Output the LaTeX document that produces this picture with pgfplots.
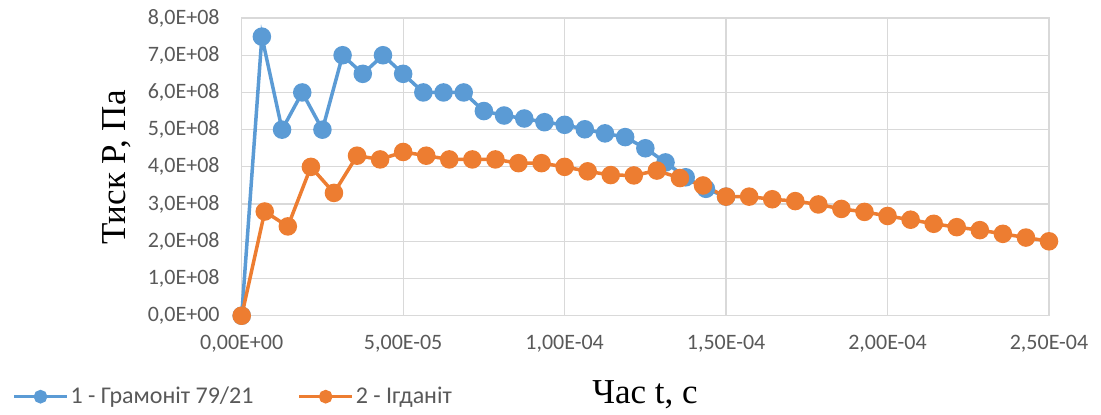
\documentclass[border=0pt]{standalone}
\usepackage{pgfplots}
\pgfplotsset{compat=1.18}
\usepackage{fontspec}
\setmainfont{Carlito}
\newfontfamily\seriffont{Liberation Serif}
\definecolor{xblue}{HTML}{5B9BD5}
\definecolor{xorange}{HTML}{ED7D31}
\definecolor{xgrid}{HTML}{D9D9D9}
\definecolor{xtext}{HTML}{595959}
\begin{document}
\begin{tikzpicture}
\begin{axis}[
  at={(0,0)}, anchor=south west,
  scale only axis,
  width=403.65pt, height=148.85pt,
  xmin=0, xmax=2.5e-4, ymin=0, ymax=8e8,
  scaled ticks=false,
  clip=false,
  xtick={0,5e-5,1e-4,1.5e-4,2e-4,2.5e-4},
  xticklabels={{0,00E+00},{5,00E-05},{1,00E-04},{1,50E-04},{2,00E-04},{2,50E-04}},
  ytick={0,1e8,2e8,3e8,4e8,5e8,6e8,7e8,8e8},
  yticklabels={{0,0E+00},{1,0E+08},{2,0E+08},{3,0E+08},{4,0E+08},{5,0E+08},{6,0E+08},{7,0E+08},{8,0E+08}},
  major tick length=0pt,
  grid=major,
  major grid style={draw=xgrid, line width=0.6pt},
  axis line style={draw=xgrid, line width=0.6pt},
  tick label style={font=\fontsize{11}{13}\selectfont, text=xtext},
  xticklabel style={yshift=-6pt},
  yticklabel style={xshift=-7.5pt},
  xlabel={\seriffont Час t, с},
  ylabel={\seriffont Тиск P, Па},
  xlabel style={at={(axis description cs:0.4996,-0.2933)}, anchor=base, font=\fontsize{17.5}{20}\selectfont, text=black},
  ylabel style={at={(axis description cs:-0.155,0.498)}, anchor=center, rotate=0, font=\fontsize{17.5}{20}\selectfont, text=black},
  legend columns=2,
  legend style={at={(axis description cs:-0.2845,-0.272)}, anchor=west, draw=none, fill=none,
    font=\fontsize{12}{14}\selectfont, text=xtext, inner sep=0pt,
    nodes={inner xsep=1pt},
    /tikz/every even column/.append style={column sep=21pt}},
  legend cell align=left,
  legend image code/.code={%
    \draw[line width=1.6pt, mark size=2.6pt, mark repeat=2, mark phase=2]
      plot coordinates {(0pt,0pt) (13.25pt,0pt) (26.5pt,0pt)};},
]
\addplot[color=xblue, line width=1.75pt, mark=*, mark size=3.75pt, mark options={fill=xblue, draw=xblue}] coordinates {
(0,0) (6.25e-6,7.5e8) (1.25e-5,5.0e8) (1.875e-5,6.0e8) (2.5e-5,5.0e8)
(3.125e-5,7.0e8) (3.75e-5,6.5e8) (4.375e-5,7.0e8) (5e-5,6.5e8) (5.625e-5,6.0e8)
(6.25e-5,6.0e8) (6.875e-5,6.0e8) (7.5e-5,5.5e8) (8.125e-5,5.38e8) (8.75e-5,5.3e8)
(9.375e-5,5.2e8) (1e-4,5.13e8) (1.0625e-4,5.01e8) (1.125e-4,4.9e8) (1.1875e-4,4.8e8)
(1.25e-4,4.5e8) (1.3125e-4,4.12e8) (1.375e-4,3.72e8) (1.4375e-4,3.41e8) (1.5e-4,3.2e8)
};
\addlegendentry{1 - Грамоніт 79/21}
\addplot[color=xorange, line width=1.75pt, mark=*, mark size=3.75pt, mark options={fill=xorange, draw=xorange}] coordinates {
(0,0) (7.143e-6,2.8e8) (1.4286e-5,2.4e8) (2.1429e-5,4.0e8) (2.8571e-5,3.3e8)
(3.5714e-5,4.3e8) (4.2857e-5,4.2e8) (5e-5,4.4e8) (5.7143e-5,4.3e8) (6.4286e-5,4.2e8)
(7.1429e-5,4.2e8) (7.8571e-5,4.2e8) (8.5714e-5,4.1e8) (9.2857e-5,4.1e8) (1e-4,4.0e8)
(1.07143e-4,3.88e8) (1.14286e-4,3.78e8) (1.21429e-4,3.77e8) (1.28571e-4,3.9e8) (1.35714e-4,3.7e8)
(1.42857e-4,3.5e8) (1.5e-4,3.2e8) (1.57143e-4,3.2e8) (1.64286e-4,3.13e8) (1.71429e-4,3.08e8)
(1.78571e-4,2.99e8) (1.85714e-4,2.87e8) (1.92857e-4,2.79e8) (2e-4,2.68e8) (2.07143e-4,2.58e8)
(2.14286e-4,2.47e8) (2.21429e-4,2.38e8) (2.28571e-4,2.3e8) (2.35714e-4,2.2e8) (2.42857e-4,2.1e8)
(2.5e-4,2.0e8)
};
\addlegendentry{2 - Ігданіт}
\end{axis}
\pgfresetboundingbox
\path[use as bounding box] (-120.85pt,-49.15pt) rectangle (429.65pt,157.85pt);
\end{tikzpicture}
\end{document}
